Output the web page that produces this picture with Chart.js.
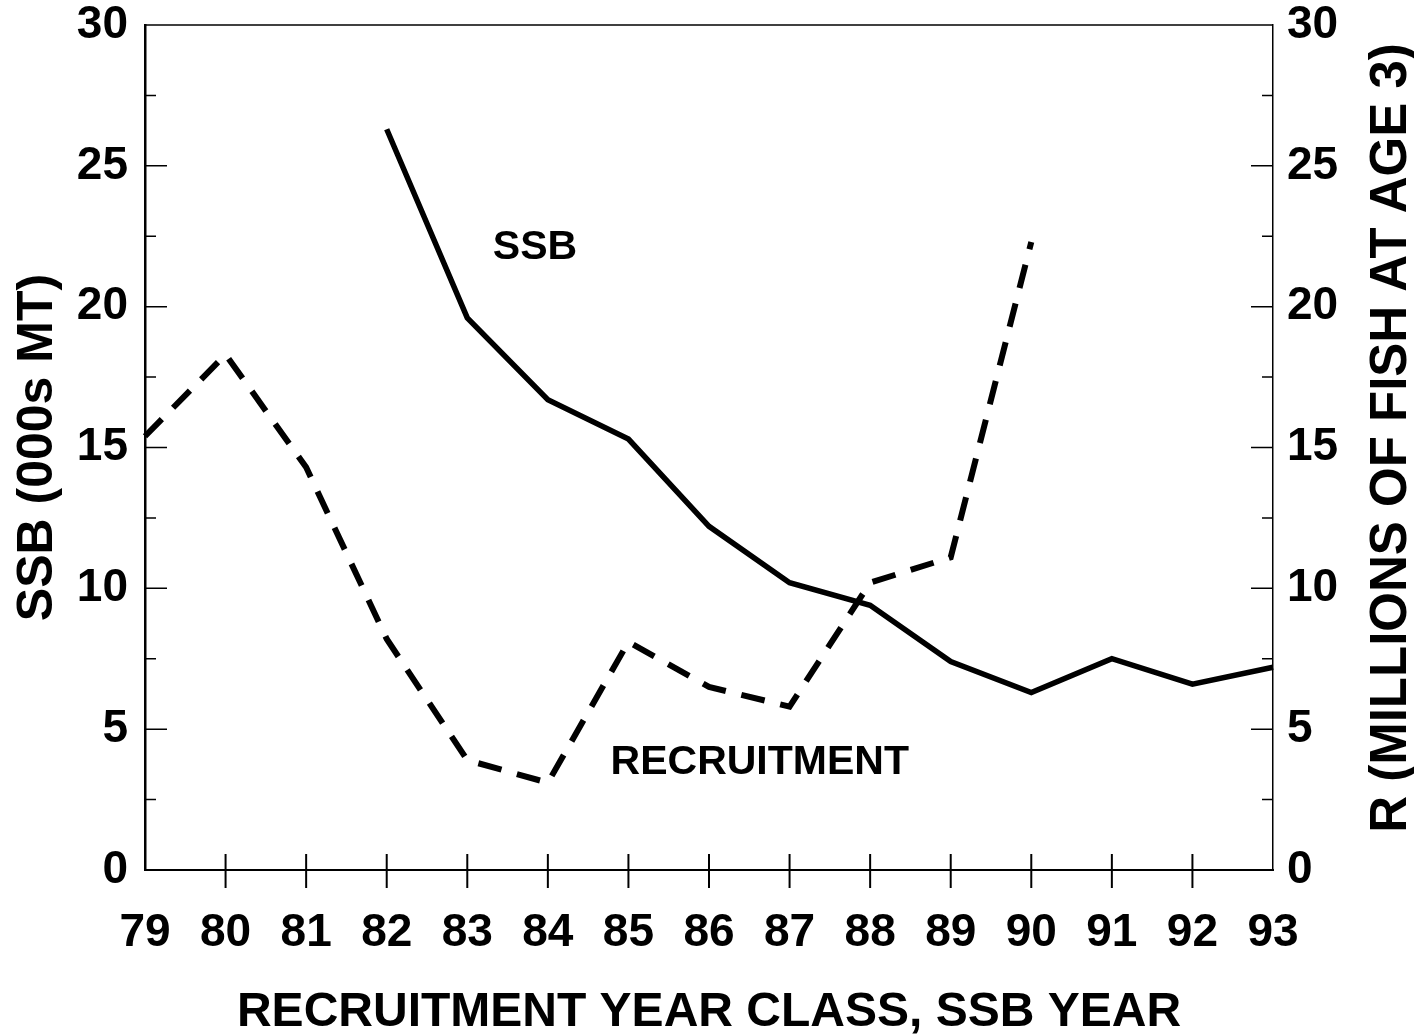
<!DOCTYPE html>
<html>
<head>
<meta charset="utf-8">
<script src="https://cdn.jsdelivr.net/npm/chart.js@4"></script>
<style>
  html, body { margin: 0; padding: 0; background: #fff; }
  #wrap { width: 1414px; height: 1036px; }
</style>
</head>
<body>
<div id="wrap"><canvas id="chart" width="1414" height="1036"></canvas></div>
<script>
// year labels on the x axis
const years = ['79', '80', '81', '82', '83', '84', '85', '86', '87', '88', '89', '90', '91', '92', '93'];
// spawning stock biomass (000s MT), left axis
const ssb = [null, null, null, 26.3, 19.6, 16.7, 15.3, 12.2, 10.2, 9.4, 7.4, 6.3, 7.5, 6.6, 7.2];
// recruitment (millions of fish at age 3), right axis
const recruitment = [15.4, 18.3, 14.3, 8.2, 3.9, 3.1, 8.1, 6.5, 5.8, 10.2, 11.1, 22.3, null, null, null];
// axis tick values
const yTicks = [0, 5, 10, 15, 20, 25, 30];

const FONT = '"Liberation Sans", Arial, Helvetica, sans-serif';

// ticks pointing into the plot, top frame line, right title and the two line labels
const extras = {
    id: 'extras',
    afterDatasetsDraw(chart) {
        const ctx = chart.ctx;
        const a = chart.chartArea;
        const x = chart.scales.x, y = chart.scales.y, y2 = chart.scales.y2;
        ctx.save();
        ctx.strokeStyle = '#000';
        ctx.fillStyle = '#000';

        // top frame
        ctx.lineWidth = 1.5;
        ctx.beginPath();
        ctx.moveTo(a.left, a.top);
        ctx.lineTo(a.right, a.top);
        ctx.stroke();

        // inward y ticks, major every 5, minor in between
        for (let v = 2.5; v < 30; v += 2.5) {
            const len = (v % 5 === 0) ? 22 : 11;
            const py = y.getPixelForValue(v);
            const py2 = y2.getPixelForValue(v);
            ctx.beginPath();
            ctx.moveTo(a.left, py);
            ctx.lineTo(a.left + len, py);
            ctx.moveTo(a.right, py2);
            ctx.lineTo(a.right - len, py2);
            ctx.stroke();
        }

        // x ticks crossing the axis
        ctx.lineWidth = 2;
        for (let i = 1; i < years.length - 1; i++) {
            const px = x.getPixelForValue(i);
            ctx.beginPath();
            ctx.moveTo(px, a.bottom - 16);
            ctx.lineTo(px, a.bottom + 18);
            ctx.stroke();
        }

        // labels on the lines
        ctx.font = 'bold 41px ' + FONT;
        ctx.textAlign = 'center';
        ctx.textBaseline = 'middle';
        ctx.fillText('SSB', x.getPixelForValue(4.84), y.getPixelForValue(22.1));
        ctx.fillText('RECRUITMENT', x.getPixelForValue(7.63), y.getPixelForValue(3.8));

        // right axis title, reading bottom to top
        ctx.font = 'bold 51px ' + FONT;
        ctx.translate(1392, 438);
        ctx.rotate(-Math.PI / 2);
        ctx.fillText('R (MILLIONS OF FISH AT AGE 3)', 0, 0);
        ctx.restore();
    }
};

// fixed axis sizes so the plot area sits where it does in the original
function fixSize(size) {
    return function(scale) {
        if (scale.isHorizontal()) {
            scale.height = size;
        } else {
            scale.width = size;
        }
        scale.paddingTop = 0;
        scale.paddingBottom = 0;
    };
}

const ctx = document.getElementById('chart').getContext('2d');
const chart = new Chart(ctx, {
    type: 'line',
    data: {
        labels: years,
        datasets: [{
            label: 'SSB',
            data: ssb,
            yAxisID: 'y',
            borderColor: '#000',
            borderWidth: 5.5,
            pointRadius: 0,
            tension: 0
        }, {
            label: 'RECRUITMENT',
            data: recruitment,
            yAxisID: 'y2',
            borderColor: '#000',
            borderWidth: 6,
            borderDash: [24, 16],
            pointRadius: 0,
            tension: 0
        }]
    },
    options: {
        responsive: false,
        animation: false,
        layout: { padding: { top: 25, left: 0, right: 0, bottom: 0 } },
        plugins: {
            legend: { display: false },
            tooltip: { enabled: false }
        },
        scales: {
            x: {
                offset: false,
                grid: { display: false, drawTicks: false },
                border: { display: true, color: '#000', width: 2 },
                ticks: {
                    color: '#000',
                    padding: 36,
                    maxRotation: 0,
                    autoSkip: false,
                    font: { family: FONT, size: 46, weight: 'bold', lineHeight: 1.2 }
                },
                title: {
                    display: true,
                    text: 'RECRUITMENT YEAR CLASS, SSB YEAR',
                    color: '#000',
                    padding: { top: 0, bottom: 0 },
                    font: { family: FONT, size: 48, weight: 'bold', lineHeight: 0.95 }
                },
                afterFit: fixSize(166)
            },
            y: {
                position: 'left',
                min: 0,
                max: 30,
                afterBuildTicks(scale) { scale.ticks = yTicks.map(v => ({ value: v })); },
                grid: { display: false, drawTicks: false },
                border: { display: true, color: '#000', width: 2.5 },
                ticks: {
                    color: '#000',
                    padding: 17,
                    font: { family: FONT, size: 46, weight: 'bold', lineHeight: 0.5 }
                },
                title: {
                    display: true,
                    text: 'SSB (000s MT)',
                    color: '#000',
                    padding: { top: 13, bottom: 0 },
                    font: { family: FONT, size: 50, weight: 'bold', lineHeight: 1 }
                },
                afterFit: fixSize(145)
            },
            y2: {
                position: 'right',
                min: 0,
                max: 30,
                afterBuildTicks(scale) { scale.ticks = yTicks.map(v => ({ value: v })); },
                grid: { display: false, drawTicks: false },
                border: { display: true, color: '#000', width: 1.5 },
                ticks: {
                    color: '#000',
                    padding: 14,
                    font: { family: FONT, size: 46, weight: 'bold', lineHeight: 0.5 }
                },
                afterFit: fixSize(141)
            }
        }
    },
    plugins: [extras]
});
</script>
</body>
</html>
